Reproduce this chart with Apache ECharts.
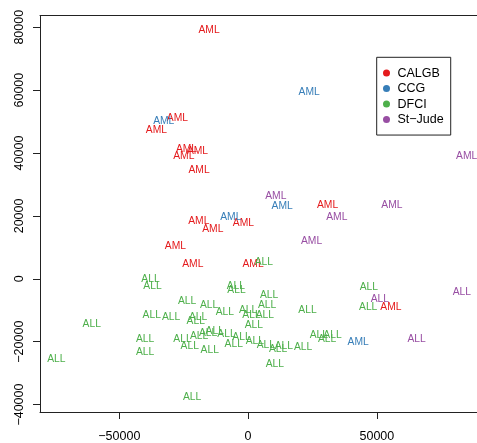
<!DOCTYPE html>
<html>
<head>
<meta charset="utf-8">
<script src="https://cdn.jsdelivr.net/npm/echarts@6/dist/echarts.min.js"></script>
<style>html,body{margin:0;padding:0;background:#fff;}#c{width:477px;height:443px;}</style>
</head>
<body>
<div id="c"></div>
<script>
const groupNames = ['CALGB', 'CCG', 'DFCI', 'St-Jude'];
const groupColors = ['#E41A1C', '#377EB8', '#4DAF4A', '#984EA3'];

const calgbX = [-15150, -27470, -35590, -23930, -19660, -24980, -19040, -19150, -13710, -1830, -28210, -21480, 1940, 30850, 55440];
const calgbY = [79060, 51020, 47310, 41180, 40640, 39050, 34610, 18410, 15870, 17680, 10260, 4670, 4670, 23400, -8990];
const calgbText = ['AML','AML','AML','AML','AML','AML','AML','AML','AML','AML','AML','AML','AML','AML','AML'];

const ccgX = [23700, -32750, -6720, 13210, 42740];
const ccgY = [59280, 50170, 19470, 22950, -20100];
const ccgText = ['AML','AML','AML','AML','AML'];

const dfciX = [6100, -37920, -37140, -37410, -29910, -60720, -40020, -40020, -74440, -4780, -4510, -23700, -15150, -9050, 8160, 7380, 0, 1320, 6490, 2210, -19430, -20320, -12940, -15540, -19040, -8390, -2560, -25490, -22650, -14880, -5560, 2600, 6880, 11660, 13870, 10370, -21760, 23070, 46890, 46630, 27470, 32790, 30690, 21370];
const dfciY = [5300, 0, -2220, -11430, -12160, -14380, -19150, -23180, -25400, -2220, -3490, -6990, -8260, -10580, -5290, -8260, -10050, -11530, -11530, -14600, -12160, -13340, -16510, -17250, -18100, -17460, -18630, -19150, -21270, -22760, -20640, -19900, -20960, -22320, -21270, -26990, -37690, -10050, -2640, -8990, -17780, -17780, -19150, -21680];
const dfciText = dfciX.map(() => 'ALL');

const stjudeX = [84850, 10760, 55830, 34460, 24630, 51170, 83020, 65420];
const stjudeY = [39050, 26350, 23400, 19590, 12070, -6350, -4350, -19050];
const stjudeText = ['AML','AML','AML','AML','AML','ALL','ALL','ALL'];

const xTicks = [-50000, 0, 50000];
const yTicks = [-40000, -20000, 0, 20000, 40000, 60000, 80000];

const FONT = "'Liberation Sans', Arial, Helvetica, sans-serif";
const minus = v => String(v).replace('-', '\u2212');
const LINE = '#222';
const X_MIN = -80810, X_MAX = 88890;

function makeSeries(name, color, xs, ys, texts) {
  return {
    name: name,
    type: 'scatter',
    xAxisIndex: 0, yAxisIndex: 0,
    symbol: 'circle',
    symbolSize: 1,
    itemStyle: { color: color, opacity: 0 },
    label: {
      show: true, position: 'inside', opacity: 1,
      formatter: p => p.value[2],
      color: color, fontSize: 10.3, fontFamily: FONT
    },
    emphasis: { disabled: true },
    data: xs.map((x, i) => [x, ys[i], texts[i]])
  };
}

const chart = echarts.init(document.getElementById('c'), null, { renderer: 'canvas' });
chart.setOption({
  animation: false,
  backgroundColor: '#fff',
  grid: { left: 40, right: 0, top: 15.5, bottom: 30, show: false },
  xAxis: [{
    type: 'value', min: X_MIN, max: X_MAX, position: 'bottom',
    axisLine: { show: true, onZero: false, lineStyle: { color: LINE, width: 1 } },
    splitLine: { show: false },
    axisTick: { show: true, length: 7, inside: false, lineStyle: { color: LINE }, customValues: xTicks },
    axisLabel: { customValues: xTicks, margin: 18, fontSize: 12.5, color: '#000', fontFamily: FONT, formatter: minus }
  }, {
    type: 'value', min: X_MIN, max: X_MAX, position: 'top',
    axisLine: { show: true, onZero: false, lineStyle: { color: LINE, width: 1 } },
    splitLine: { show: false }, axisTick: { show: false }, axisLabel: { show: false }
  }],
  yAxis: {
    type: 'value', min: -42360, max: 83730,
    axisLine: { show: true, onZero: false, lineStyle: { color: LINE, width: 1 } },
    splitLine: { show: false },
    axisTick: { show: true, length: 7, inside: false, lineStyle: { color: LINE }, customValues: yTicks },
    axisLabel: { customValues: yTicks, margin: 14, rotate: 90, fontSize: 12.5, color: '#000', fontFamily: FONT, formatter: minus }
  },
  legend: {
    orient: 'vertical', left: 376.7, top: 57.3,
    padding: [8, 7, 7.75, 6.3],
    itemGap: 0, itemWidth: 12, itemHeight: 7, icon: 'circle',
    itemStyle: { opacity: 1 },
    borderColor: LINE, borderWidth: 1, borderRadius: 0,
    textStyle: { fontSize: 12.5, lineHeight: 15.5, color: '#000', fontFamily: FONT },
    formatter: minus,
    selectedMode: false,
    data: groupNames
  },
  series: [
    makeSeries(groupNames[0], groupColors[0], calgbX, calgbY, calgbText),
    makeSeries(groupNames[1], groupColors[1], ccgX, ccgY, ccgText),
    makeSeries(groupNames[2], groupColors[2], dfciX, dfciY, dfciText),
    makeSeries(groupNames[3], groupColors[3], stjudeX, stjudeY, stjudeText)
  ]
});
</script>
</body>
</html>
